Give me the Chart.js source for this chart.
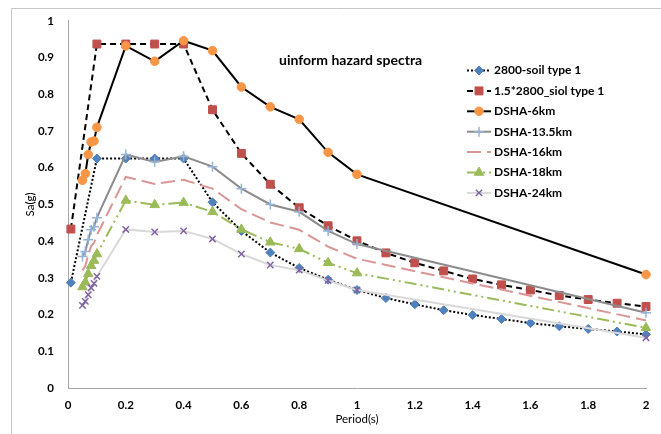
<!DOCTYPE html>
<html>
<head>
<meta charset="utf-8">
<script src="https://cdn.jsdelivr.net/npm/chart.js@4/dist/chart.umd.min.js"></script>
<style>
  html, body { margin: 0; padding: 0; background: #fff; }
</style>
</head>
<body>
<canvas id="spectra" width="661" height="434"></canvas>
<script>
// periods (s)
const codePeriods = [0.01, 0.1, 0.2, 0.3, 0.4, 0.5, 0.6, 0.7, 0.8, 0.9, 1.0,
                     1.1, 1.2, 1.3, 1.4, 1.5, 1.6, 1.7, 1.8, 1.9, 2.0]
const dshaPeriods = [0.05, 0.06, 0.07, 0.08, 0.09, 0.1, 0.2, 0.3, 0.4, 0.5,
                     0.6, 0.7, 0.8, 0.9, 1.0, 2.0]

// Sa(g)
const soil2800 = [0.287, 0.625, 0.625, 0.625, 0.625, 0.506, 0.428, 0.369, 0.327, 0.295, 0.267,
                  0.245, 0.228, 0.212, 0.199, 0.188, 0.177, 0.168, 0.161, 0.154, 0.146]
const soil2800x15 = [0.433, 0.937, 0.937, 0.937, 0.937, 0.758, 0.639, 0.555, 0.491, 0.442, 0.401,
                     0.368, 0.341, 0.319, 0.297, 0.281, 0.267, 0.252, 0.241, 0.231, 0.222]
const dsha6 = [0.566, 0.584, 0.636, 0.670, 0.673, 0.710, 0.932, 0.890, 0.946, 0.919,
               0.820, 0.766, 0.732, 0.642, 0.582, 0.309]
const dsha135 = [0.358, 0.372, 0.404, 0.431, 0.439, 0.464, 0.636, 0.616, 0.631, 0.603,
                 0.543, 0.500, 0.480, 0.428, 0.392, 0.205]
const dsha16 = [0.320, 0.333, 0.362, 0.387, 0.395, 0.417, 0.575, 0.556, 0.567, 0.543,
                0.487, 0.451, 0.431, 0.385, 0.352, 0.184]
const dsha18 = [0.275, 0.288, 0.311, 0.333, 0.347, 0.365, 0.511, 0.499, 0.505, 0.480,
                0.432, 0.397, 0.379, 0.341, 0.313, 0.164]
const dsha24 = [0.225, 0.236, 0.254, 0.273, 0.285, 0.304, 0.432, 0.425, 0.428, 0.406,
                0.365, 0.335, 0.321, 0.293, 0.267, 0.137]

const seriesNames = ["2800-soil type 1", "1.5*2800_siol type 1", "DSHA-6km", "DSHA-13.5km",
                     "DSHA-16km", "DSHA-18km", "DSHA-24km"]

const xTicks = [0, 0.2, 0.4, 0.6, 0.8, 1, 1.2, 1.4, 1.6, 1.8, 2]
const yTicks = [0, 0.1, 0.2, 0.3, 0.4, 0.5, 0.6, 0.7, 0.8, 0.9, 1]

const chartTitle = "uinform hazard spectra"
const FONT = "Lato, 'Liberation Sans', sans-serif"

function pts(xs, ys) {
  return xs.map((x, i) => ({x: x, y: ys[i]}))
}

function series(i, xs, ys, style) {
  return Object.assign({
    label: seriesNames[i],
    data: pts(xs, ys),
    borderWidth: 2,
    tension: 0,
    fill: false,
    clip: false,
    order: 10 - i,
    pointBorderWidth: 1
  }, style)
}

const datasets = [
  series(0, codePeriods, soil2800, {
    borderColor: "#000", borderDash: [2, 2],
    pointStyle: "rectRot", pointRadius: 4.5,
    pointBackgroundColor: "#4f81bd", pointBorderColor: "#4f81bd"
  }),
  series(1, codePeriods, soil2800x15, {
    borderColor: "#000", borderDash: [6, 4],
    pointStyle: "rect", pointRadius: 5.6,
    pointBackgroundColor: "#c0504d", pointBorderColor: "#c0504d"
  }),
  series(2, dshaPeriods, dsha6, {
    borderColor: "#000",
    pointStyle: "circle", pointRadius: 4.3,
    pointBackgroundColor: "#f79646", pointBorderColor: "#f79646"
  }),
  series(3, dshaPeriods, dsha135, {
    borderColor: "#8c8c8c",
    pointStyle: "cross", pointRadius: 5, pointBorderWidth: 1.5,
    pointBackgroundColor: "#95b3d7", pointBorderColor: "#95b3d7"
  }),
  series(4, dshaPeriods, dsha16, {
    borderColor: "#da9694", borderDash: [14, 6],
    pointRadius: 0, pointStyle: false
  }),
  series(5, dshaPeriods, dsha18, {
    borderColor: "#9bbb59", borderDash: [12, 4, 2, 4, 2, 4],
    pointStyle: "triangle", pointRadius: 5.5,
    pointBackgroundColor: "#9bbb59", pointBorderColor: "#9bbb59"
  }),
  series(6, dshaPeriods, dsha24, {
    borderColor: "#d9d9d9",
    pointStyle: "crossRot", pointRadius: 4.5, pointBorderWidth: 1.5,
    pointBackgroundColor: "#8064a2", pointBorderColor: "#8064a2"
  })
]

// grey frame of the chart object, cut at the right and bottom
const framePlugin = {
  id: "frame",
  beforeDraw(chart) {
    const ctx = chart.ctx
    ctx.save()
    ctx.strokeStyle = "#c6c6c6"
    ctx.lineWidth = 1
    ctx.beginPath()
    ctx.moveTo(11.5, 434)
    ctx.lineTo(11.5, 8.5)
    ctx.lineTo(661, 8.5)
    ctx.stroke()
    ctx.restore()
  }
}

// title and legend sit inside the plot
const insideLegend = {
  id: "insideLegend",
  afterDraw(chart) {
    const ctx = chart.ctx
    ctx.save()
    ctx.textBaseline = "middle"
    ctx.textAlign = "left"
    ctx.fillStyle = "#000"
    ctx.font = "bold 14px " + FONT
    ctx.fillText(chartTitle, 279, 60)

    let y = 70.5
    chart.data.datasets.forEach(ds => {
      ctx.strokeStyle = ds.borderColor
      ctx.lineWidth = ds.borderWidth
      ctx.setLineDash(ds.borderDash || [])
      ctx.beginPath()
      ctx.moveTo(467, y)
      ctx.lineTo(491, y)
      ctx.stroke()
      ctx.setLineDash([])
      if (ds.pointRadius > 0 && Chart.helpers && Chart.helpers.drawPoint) {
        ctx.fillStyle = ds.pointBackgroundColor
        ctx.strokeStyle = ds.pointBorderColor
        ctx.lineWidth = ds.pointBorderWidth
        Chart.helpers.drawPoint(ctx, {
          pointStyle: ds.pointStyle, radius: ds.pointRadius,
          borderWidth: ds.pointBorderWidth, rotation: 0
        }, 479, y)
      }
      ctx.fillStyle = "#000"
      ctx.font = "bold 12px " + FONT
      ctx.fillText(ds.label, 494, y)
      y += 20.4
    })
    ctx.restore()
  }
}

const fmt = v => String(+Number(v).toFixed(1))

new Chart(document.getElementById("spectra"), {
  type: "line",
  data: {datasets: datasets},
  plugins: [framePlugin, insideLegend],
  options: {
    responsive: false,
    animation: false,
    layout: {padding: {left: 0, right: 15, top: 19, bottom: 0}},
    plugins: {legend: {display: false}, tooltip: {enabled: false}, title: {display: false}},
    scales: {
      x: {
        type: "linear", min: 0, max: 2,
        afterBuildTicks: s => { s.ticks = xTicks.map(v => ({value: v})) },
        afterFit: s => { s.height = 46 },
        grid: {display: false, drawTicks: false},
        border: {display: true, color: "#a6a6a6", width: 1},
        ticks: {padding: 10, color: "#000", font: {family: FONT, size: 11.5, weight: "bold"}, callback: fmt},
        title: {display: true, text: "Period(s)", color: "#000", padding: {top: 0, bottom: 8},
                font: {family: FONT, size: 11.5}}
      },
      y: {
        type: "linear", min: 0, max: 1,
        afterBuildTicks: s => { s.ticks = yTicks.map(v => ({value: v})) },
        afterFit: s => { s.width = 68 },
        grid: {display: false, drawTicks: false},
        border: {display: true, color: "#a6a6a6", width: 1},
        ticks: {padding: 14, color: "#000", font: {family: FONT, size: 11.5, weight: "bold"}, callback: fmt},
        title: {display: true, text: "Sa(g)", color: "#000", padding: {top: 23, bottom: 0},
                font: {family: FONT, size: 11.5}}
      }
    }
  }
})
</script>
</body>
</html>
